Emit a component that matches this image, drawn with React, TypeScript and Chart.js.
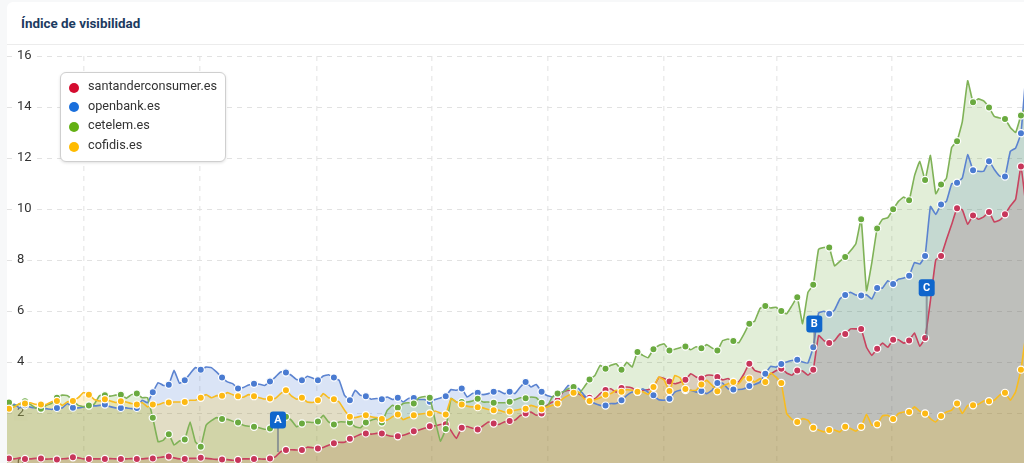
import Chart from "chart.js/auto";
import React, { useEffect, useRef } from "react";

// one value every 5.3px, from index -1 to 191
const santander = [
    0.22,
    0.22, 0.2, 0.24, 0.2, 0.2, 0.22, 0.22, 0.19, 0.2, 0.18, 0.2, 0.22, 0.26, 0.24, 0.2, 0.2, 0.2, 0.2,
    0.2, 0.21, 0.2, 0.2, 0.2, 0.21, 0.2, 0.2, 0.22, 0.22, 0.25, 0.28, 0.29, 0.24, 0.2, 0.2, 0.22, 0.22,
    0.25, 0.22, 0.2, 0.18, 0.18, 0.17, 0.15, 0.16, 0.2, 0.2, 0.2, 0.2, 0.19, 0.22, 0.28, 0.48, 0.55, 0.56,
    0.55, 0.55, 0.66, 0.64, 0.61, 0.65, 0.74, 0.81, 0.85, 0.85, 0.99, 1.07, 1.17, 1.2, 1.17, 1.2, 1.2, 1.13,
    1.09, 1.09, 1.13, 1.2, 1.28, 1.33, 1.4, 1.48, 1.5, 1.55, 1.56, 1.3, 1.0, 1.42, 1.47, 1.4, 1.35, 1.5,
    1.65, 1.59, 1.55, 1.65, 1.69, 1.72, 1.9, 1.98, 2.04, 1.91, 1.98, 2.3, 2.43, 2.5, 2.82, 2.89, 2.8, 2.75,
    2.63, 2.6, 2.56, 2.76, 2.9, 2.95, 2.82, 2.98, 3.02, 2.98, 2.83, 2.89, 2.91, 3.02, 3.4, 3.35, 3.24, 3.15,
    3.21, 3.3, 3.54, 3.41, 3.35, 3.48, 3.48, 3.41, 3.3, 3.35, 3.22, 3.22, 3.54, 3.93, 3.67, 3.6, 3.54, 3.54,
    3.66, 3.74, 3.57, 3.48, 3.67, 3.65, 3.48, 3.7, 5.04, 4.84, 4.75, 4.84, 5.1, 5.1, 5.3, 5.3, 5.29, 4.58,
    4.26, 4.52, 4.74, 4.58, 4.87, 4.87, 4.74, 4.84, 5.14, 4.62, 4.94, 6.4, 8.0, 8.16, 8.79, 9.4, 10.03, 9.96,
    9.4, 9.75, 9.6, 9.69, 9.88, 9.49, 9.56, 9.79, 10.12, 10.38, 11.67, 10.0,
];
const openbank = [
    2.3,
    2.28, 2.34, 2.2, 2.3, 2.23, 2.2, 2.17, 2.17, 2.14, 2.2, 2.2, 2.37, 2.21, 2.2, 2.24, 2.3, 2.28, 2.3,
    2.33, 2.25, 2.2, 2.2, 2.2, 2.17, 2.2, 2.5, 2.4, 2.81, 3.19, 3.08, 3.11, 3.67, 3.17, 3.28, 3.54, 3.78,
    3.7, 3.8, 3.78, 3.6, 3.39, 3.22, 3.15, 2.96, 3.0, 3.1, 3.15, 3.13, 3.08, 3.24, 3.41, 3.61, 3.59, 3.48,
    3.31, 3.28, 3.44, 3.37, 3.28, 3.45, 3.5, 3.39, 3.28, 2.69, 2.5, 2.89, 2.69, 2.66, 2.54, 2.57, 2.54, 2.63,
    2.53, 2.6, 2.43, 2.57, 2.59, 2.53, 2.53, 2.44, 2.53, 2.59, 2.66, 2.92, 2.89, 2.96, 2.63, 2.76, 2.79, 2.72,
    2.76, 2.83, 2.86, 2.76, 2.83, 2.76, 3.02, 3.22, 3.02, 3.12, 2.83, 2.69, 2.63, 2.75, 2.82, 3.08, 3.02, 2.95,
    2.69, 2.5, 2.37, 2.3, 2.29, 2.37, 2.37, 2.5, 2.69, 2.82, 2.83, 2.95, 2.82, 2.7, 2.52, 2.5, 2.56, 2.82,
    2.89, 2.9, 2.89, 2.82, 2.86, 2.76, 2.89, 3.18, 3.17, 2.95, 2.92, 2.92, 2.95, 3.06, 3.12, 3.21, 3.54, 3.83,
    3.8, 3.92, 4.0, 4.06, 4.09, 4.0, 3.96, 4.58, 5.92, 5.99, 5.89, 6.04, 6.47, 6.63, 6.73, 6.63, 6.61, 6.64,
    6.47, 6.9, 6.9, 7.19, 7.06, 7.25, 7.29, 7.38, 7.9, 7.84, 8.16, 10.1, 9.79, 10.18, 10.3, 10.99, 11.03, 11.22,
    12.13, 11.52, 11.48, 11.48, 11.87, 11.55, 11.29, 11.27, 12.26, 12.39, 12.97, 15.5,
];
const cetelem = [
    2.45,
    2.41, 2.28, 2.35, 2.46, 2.34, 2.2, 2.17, 2.3, 2.38, 2.6, 2.7, 2.68, 2.5, 2.3, 2.25, 2.29, 2.35, 2.68,
    2.7, 2.66, 2.7, 2.72, 2.58, 2.72, 2.76, 2.6, 2.6, 1.81, 0.87, 0.94, 1.17, 0.74, 0.9, 0.96, 1.65, 0.87,
    0.68, 1.52, 1.7, 1.82, 1.76, 1.75, 1.68, 1.63, 1.52, 1.48, 1.46, 1.42, 1.36, 1.39, 1.65, 1.87, 1.85, 1.72,
    1.46, 1.59, 1.65, 1.63, 1.67, 1.91, 1.65, 1.55, 1.65, 1.65, 1.63, 1.46, 1.42, 1.63, 1.72, 1.78, 1.63, 2.1,
    2.3, 2.21, 2.37, 2.4, 2.37, 2.6, 2.65, 2.6, 1.72, 0.9, 1.37, 2.57, 2.43, 2.43, 2.43, 2.47, 2.56, 2.43,
    2.43, 2.4, 2.4, 2.4, 2.44, 2.52, 2.6, 2.58, 2.63, 2.6, 2.4, 2.24, 2.63, 2.76, 2.82, 2.95, 3.02, 2.76,
    3.02, 3.31, 3.47, 3.87, 3.74, 3.87, 3.93, 3.7, 3.99, 3.8, 4.39, 4.26, 4.17, 4.5, 4.65, 4.71, 4.45, 4.5,
    4.56, 4.61, 4.48, 4.6, 4.54, 4.68, 4.55, 4.45, 4.84, 4.9, 4.82, 4.75, 5.1, 5.5, 5.6, 6.1, 6.2, 6.12,
    6.15, 6.0, 5.89, 6.21, 6.54, 5.5, 6.73, 7.03, 8.42, 8.49, 8.49, 7.77, 7.95, 8.12, 8.36, 8.64, 9.6, 6.8,
    7.9, 9.24, 9.6, 9.66, 9.99, 10.3, 10.47, 10.34, 11.29, 11.87, 11.14, 12.1, 10.6, 10.96, 11.2, 12.42, 12.66, 13.44,
    15.03, 14.19, 14.32, 14.24, 13.98, 13.63, 13.57, 13.53, 13.2, 13.0, 13.67, 14.0,
];
const cofidis = [
    2.15,
    2.17, 2.24, 2.37, 2.37, 2.4, 2.34, 2.33, 2.33, 2.44, 2.47, 2.3, 2.44, 2.47, 2.6, 2.8, 2.72, 2.53, 2.47,
    2.54, 2.47, 2.41, 2.46, 2.43, 2.37, 2.33, 2.41, 2.24, 2.33, 2.33, 2.4, 2.41, 2.43, 2.43, 2.43, 2.5, 2.5,
    2.6, 2.72, 2.6, 2.68, 2.68, 2.8, 2.72, 2.66, 2.62, 2.72, 2.66, 2.6, 2.55, 2.57, 2.57, 2.76, 2.89, 2.67,
    2.54, 2.6, 2.43, 2.41, 2.5, 2.76, 2.6, 2.54, 2.43, 2.11, 1.85, 1.82, 1.87, 1.91, 1.85, 1.82, 1.76, 1.72,
    1.85, 1.94, 1.74, 1.82, 1.91, 1.95, 1.98, 1.98, 2.08, 2.0, 1.94, 2.57, 2.43, 2.33, 2.27, 2.24, 2.23, 2.2,
    2.14, 2.11, 2.11, 2.04, 2.06, 2.11, 2.15, 2.17, 2.3, 2.24, 2.15, 2.24, 2.3, 2.37, 2.56, 2.69, 2.79, 2.82,
    2.56, 2.47, 2.52, 2.6, 2.72, 2.76, 2.89, 2.83, 2.91, 2.89, 2.83, 2.83, 2.73, 3.02, 3.41, 3.3, 2.86, 3.47,
    3.38, 2.94, 2.89, 2.89, 3.12, 3.28, 3.09, 2.85, 3.05, 3.15, 3.22, 3.15, 3.41, 3.35, 3.22, 3.35, 3.22, 3.57,
    3.41, 3.18, 1.98, 1.75, 1.65, 1.78, 1.72, 1.42, 1.33, 1.26, 1.33, 1.33, 1.26, 1.46, 1.39, 1.29, 1.46, 1.95,
    1.52, 1.56, 1.89, 1.91, 1.76, 1.98, 2.04, 2.04, 2.24, 2.07, 1.98, 1.78, 1.65, 1.88, 2.04, 2.11, 2.37, 1.98,
    2.3, 2.3, 2.34, 2.47, 2.46, 2.5, 2.7, 2.79, 2.5, 2.83, 3.7, 5.2,
];

const seriesNames = ["santanderconsumer.es", "openbank.es", "cetelem.es", "cofidis.es"];
const yTicks = [0, 2, 4, 6, 8, 10, 12, 14, 16];
const xGridlines = [14.1, 35.9, 57.7, 79.4, 101.2, 123, 144.2, 165.8];

const flagLabels = ["A", "B", "C"];
const flagIndexes = [50.5, 151.2, 172.3];
const flagTipValues = [0.47, 4.58, 4.94];
const flagBoxValues = [1.73, 5.49, 6.91];

const lineColors = ["#c8435f", "#5b83d0", "#7fb257", "#f8bc20"];
const markerColors = ["#c7365a", "#4a7bd1", "#6aaa3f", "#fdb913"];
const fillColors = [
    "rgba(200, 50, 80, 0.2)",
    "rgba(70, 120, 210, 0.2)",
    "rgba(110, 170, 60, 0.2)",
    "rgba(255, 190, 0, 0.2)",
];
const legendColors = ["#d40b2f", "#1a6fdc", "#63b014", "#ffbb00"];

// weekly dots, the one skipped week is between 36 and 40
const hasMarker = (i: number) => {
    if (i < 0 || i > 190) return false;
    return i <= 36 ? i % 3 === 0 : i >= 40 && (i - 40) % 3 === 0;
};

const flagPlugin = {
    id: "flags",
    afterDatasetsDraw(chart: Chart) {
        const { ctx, scales } = chart;
        flagLabels.forEach((label, n) => {
            const x = scales.x.getPixelForValue(flagIndexes[n]);
            const tip = scales.y.getPixelForValue(flagTipValues[n]);
            const mid = scales.y.getPixelForValue(flagBoxValues[n]);
            ctx.save();
            ctx.strokeStyle = "rgba(120, 130, 140, 0.75)";
            ctx.lineWidth = 2;
            ctx.beginPath();
            ctx.moveTo(x, mid);
            ctx.lineTo(x, tip);
            ctx.stroke();
            ctx.fillStyle = "#0f66cc";
            ctx.beginPath();
            ctx.roundRect(x - 8, mid - 8.5, 16, 17, 3);
            ctx.fill();
            ctx.fillStyle = "#ffffff";
            ctx.font = "bold 11px Roboto";
            ctx.textAlign = "center";
            ctx.textBaseline = "middle";
            ctx.fillText(label, x, mid + 0.5);
            ctx.restore();
        });
    },
};

const App: React.FC = () => {
    const chartRef = useRef<HTMLCanvasElement | null>(null);

    useEffect(() => {
        if (!chartRef.current) return;
        const all = [santander, openbank, cetelem, cofidis];
        const chart = new Chart(chartRef.current, {
            type: "line",
            data: {
                datasets: all.map((values, s) => ({
                    label: seriesNames[s],
                    data: values.map((y, k) => ({ x: k - 1, y })),
                    borderColor: lineColors[s],
                    backgroundColor: fillColors[s],
                    borderWidth: 1.6,
                    tension: 0.1,
                    fill: "origin",
                    order: 4 - s,
                    pointBackgroundColor: markerColors[s],
                    pointBorderColor: "#ffffff",
                    pointBorderWidth: 1.2,
                    pointRadius: (c: any) => (hasMarker(c.parsed.x) ? 3.6 : 0),
                })),
            },
            options: {
                animation: false,
                responsive: false,
                events: [],
                layout: { padding: { top: 11, bottom: 11, left: 0, right: 0 } },
                plugins: {
                    legend: { display: false },
                    tooltip: { enabled: false },
                    filler: { drawTime: "beforeDatasetsDraw" },
                },
                scales: {
                    x: {
                        type: "linear",
                        min: -0.375,
                        max: 190.57,
                        border: { display: false, dash: [5, 5] },
                        grid: { color: "#ececec", lineWidth: 1.5, drawTicks: false },
                        ticks: { display: false },
                        afterBuildTicks: (scale: any) => {
                            scale.ticks = xGridlines.map((value) => ({ value }));
                        },
                    },
                    y: {
                        min: 0,
                        max: 16,
                        border: { display: false, dash: [5, 5] },
                        grid: { color: "#e2e2e2", drawTicks: false },
                        ticks: {
                            mirror: true,
                            padding: 10,
                            color: "#333333",
                            font: { family: "Roboto", size: 13 },
                            showLabelBackdrop: true,
                            backdropColor: "#ffffff",
                            backdropPadding: { x: 3, y: 0 },
                        },
                        afterBuildTicks: (scale: any) => {
                            scale.ticks = yTicks.map((value) => ({ value }));
                        },
                        afterFit: (scale: any) => {
                            scale.width = 0;
                            scale.paddingTop = 0;
                            scale.paddingBottom = 0;
                        },
                    },
                },
            },
            plugins: [flagPlugin],
        } as any);

        return () => {
            chart.destroy();
        };
    }, []);

    return (
        <div style={{ position: "fixed", left: 0, top: 0, width: 1024, height: 463, overflow: "hidden", background: "#f7f8f9" }}>
            <div style={{ position: "absolute", left: 7, top: 2, width: 1030, height: 480, background: "#ffffff", borderRadius: 6 }}>
                <div
                    style={{
                        height: 42,
                        borderBottom: "1px solid #ececec",
                        font: "bold 13.4px Roboto",
                        color: "#1c3a60",
                        lineHeight: "43px",
                        paddingLeft: 14,
                    }}
                >
                    Índice de visibilidad
                </div>
                <canvas ref={chartRef} width={1017} height={430} style={{ display: "block" }}></canvas>
            </div>
            <div
                style={{
                    position: "absolute",
                    left: 60,
                    top: 72,
                    width: 164,
                    height: 83,
                    border: "1px solid #cfcfcf",
                    borderRadius: 6,
                    background: "#ffffff",
                    boxShadow: "0 1px 3px rgba(0,0,0,0.12)",
                    padding: "5px 0 0 0",
                }}
            >
                {seriesNames.map((name, s) => (
                    <div key={name} style={{ position: "relative", height: 19.7, lineHeight: "19.7px", paddingLeft: 27, font: "12.7px Roboto", color: "#333333" }}>
                        <span
                            style={{
                                position: "absolute",
                                left: 7.5,
                                top: 4.5,
                                width: 10,
                                height: 10,
                                borderRadius: "50%",
                                background: legendColors[s],
                            }}
                        ></span>
                        {name}
                    </div>
                ))}
            </div>
        </div>
    );
};

export default App;
